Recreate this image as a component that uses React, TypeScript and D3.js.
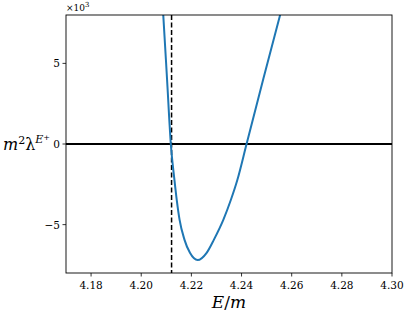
import React from "react";
import * as d3 from "d3";

const curveE = [4.2079, 4.2088, 4.2103, 4.2118, 4.21324, 4.21416, 4.21528, 4.21723, 4.21943, 4.22249, 4.22608, 4.22899, 4.23277, 4.23576, 4.23835, 4.2420, 4.2487, 4.2553, 4.2569];
const curveV = [10.1, 7.96, 4.0, 0.0, -2.22, -3.46, -4.69, -5.93, -6.75, -7.2, -6.75, -5.93, -4.69, -3.46, -2.22, 0.0, 4.05, 7.96, 8.9];
const xTicks = [4.18, 4.2, 4.22, 4.24, 4.26, 4.28, 4.3];
const yTicks = [-5, 0, 5];
const thresholdE = 4.2121;

export default function App() {
  const W = 407, H = 317;
  const m = { left: 66, right: 392, top: 15, bottom: 273 };
  const x = d3.scaleLinear().domain([4.17, 4.3]).range([m.left, m.right]);
  const y = d3.scaleLinear().domain([-8, 8]).range([m.bottom, m.top]);
  const pts = curveE.map((e, i) => [e, curveV[i]] as [number, number]);
  const line = d3.line<[number, number]>().x(d => x(d[0])).y(d => y(d[1])).curve(d3.curveMonotoneX);
  const font = "'DejaVu Serif', 'Liberation Serif', serif";
  return (
    <svg width={W} height={H} style={{ position: "absolute", left: 0, top: 0, background: "#fff" }}>
      <defs>
        <clipPath id="clip"><rect x={m.left} y={m.top} width={m.right - m.left} height={m.bottom - m.top} /></clipPath>
      </defs>
      <g clipPath="url(#clip)">
        <line x1={m.left} x2={m.right} y1={y(0)} y2={y(0)} stroke="#000" strokeWidth={2} />
        <line x1={x(thresholdE)} x2={x(thresholdE)} y1={m.top} y2={m.bottom} stroke="#000" strokeWidth={1.5} strokeDasharray="5,2.5" />
        <path d={line(pts) || ""} fill="none" stroke="#1f77b4" strokeWidth={2} />
      </g>
      <rect x={m.left} y={m.top} width={m.right - m.left} height={m.bottom - m.top} fill="none" stroke="#000" strokeWidth={0.9} />
      {xTicks.map(t => (
        <g key={t}>
          <line x1={x(t)} x2={x(t)} y1={m.bottom} y2={m.bottom + 3.5} stroke="#000" strokeWidth={0.8} />
          <text x={x(t)} y={m.bottom + 16} textAnchor="middle" fontFamily={font} fontSize={10.5} fill="#000">{t.toFixed(2)}</text>
        </g>
      ))}
      {yTicks.map(t => (
        <g key={t}>
          <line x1={m.left - 3.5} x2={m.left} y1={y(t)} y2={y(t)} stroke="#000" strokeWidth={0.8} />
          <text x={m.left - 6} y={y(t) + 4} textAnchor="end" fontFamily={font} fontSize={10.5} fill="#000">{t < 0 ? "\u2212" + Math.abs(t) : String(t)}</text>
        </g>
      ))}
      <text x={m.left} y={11} fontFamily={font} fontSize={9} fill="#000">×10<tspan dy={-4} fontSize={7}>3</tspan></text>
      <text x={3} y={150} fontFamily={font} fontSize={16} fill="#000"><tspan fontStyle="italic">m</tspan><tspan dy={-6} fontSize={11}>2</tspan><tspan dy={6}>λ</tspan><tspan dy={-7} fontSize={11} fontStyle="italic">E</tspan><tspan dy={-3} fontSize={8}>+</tspan></text>
      <text x={(m.left + m.right) / 2} y={308} textAnchor="middle" fontFamily={font} fontSize={17} fontStyle="italic" fill="#000">E<tspan fontStyle="normal">/</tspan>m</text>
    </svg>
  );
}
